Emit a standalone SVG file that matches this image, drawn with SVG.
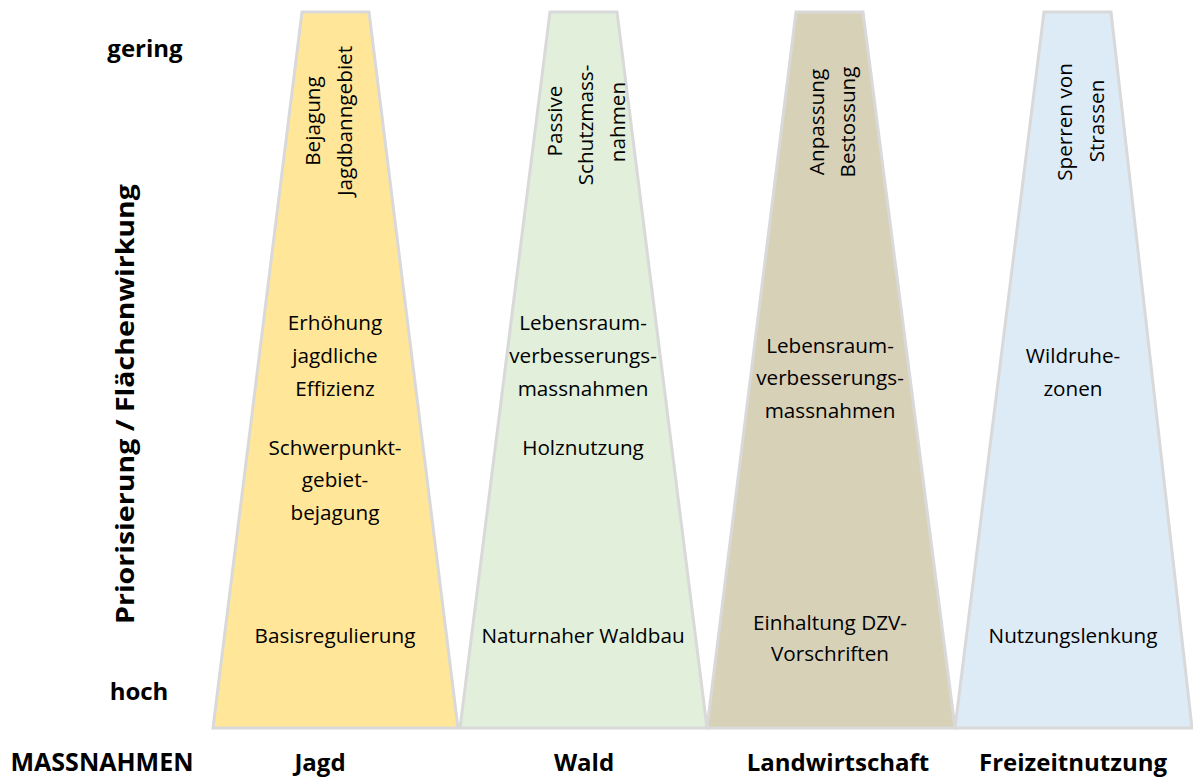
<svg xmlns="http://www.w3.org/2000/svg" width="1193" height="778" viewBox="0 0 1193 778">
<style>
.t{font-family:"Open Sans","Noto Sans",sans-serif;font-size:20.7px;fill:#000;text-anchor:middle}
.b{font-family:"Open Sans","Noto Sans",sans-serif;font-size:24px;font-weight:bold;fill:#000;text-anchor:middle}
.tr{stroke:#d9d9d9;stroke-width:3;stroke-linejoin:miter}
</style>
<rect width="1193" height="778" fill="#fff"/>
<g id="axis">
<text class="b" x="145" y="57">gering</text>
<text class="b" x="139" y="700">hoch</text>
<text class="b" transform="translate(134,404) rotate(-90)" x="0" y="0" style="font-size:25px" textLength="440" lengthAdjust="spacingAndGlyphs">Priorisierung / Flächenwirkung</text>
<text class="b" x="102" y="771" style="font-size:25px">MASSNAHMEN</text>
</g>
<g id="connectors"></g>
<g id="jagd">
<polygon class="tr" points="302,12 369,12 458,728 213,728" fill="#ffe699"/>
<text class="t" transform="translate(320,121) rotate(-90)">Bejagung</text>
<text class="t" transform="translate(352,121) rotate(-90)">Jagdbanngebiet</text>
<text class="t" x="335" y="330">Erhöhung</text>
<text class="t" x="335" y="363">jagdliche</text>
<text class="t" x="335" y="396">Effizienz</text>
<text class="t" x="335" y="455">Schwerpunkt-</text>
<text class="t" x="335" y="487">gebiet-</text>
<text class="t" x="335" y="520">bejagung</text>
<text class="t" x="335" y="643">Basisregulierung</text>
<text class="b" x="320" y="771">Jagd</text>
</g>
<g id="wald">
<polygon class="tr" points="550,12 617,12 707,728 460,728" fill="#e2efda"/>
<text class="t" transform="translate(562,121) rotate(-90)">Passive</text>
<text class="t" transform="translate(593,125) rotate(-90)">Schutzmass-</text>
<text class="t" transform="translate(625,122) rotate(-90)">nahmen</text>
<text class="t" x="583" y="330">Lebensraum-</text>
<text class="t" x="583" y="363">verbesserungs-</text>
<text class="t" x="583" y="396">massnahmen</text>
<text class="t" x="583" y="455">Holznutzung</text>
<text class="t" x="583" y="643">Naturnaher Waldbau</text>
<text class="b" x="584" y="771">Wald</text>
</g>
<g id="landwirtschaft">
<polygon class="tr" points="796,12 863,12 955,728 707,728" fill="#d7d1b8"/>
<text class="t" transform="translate(824,122) rotate(-90)">Anpassung</text>
<text class="t" transform="translate(855,122) rotate(-90)">Bestossung</text>
<text class="t" x="830" y="353">Lebensraum-</text>
<text class="t" x="830" y="385">verbesserungs-</text>
<text class="t" x="830" y="418">massnahmen</text>
<text class="t" x="830" y="630">Einhaltung DZV-</text>
<text class="t" x="830" y="661">Vorschriften</text>
<text class="b" x="838" y="771">Landwirtschaft</text>
</g>
<g id="freizeitnutzung">
<polygon class="tr" points="1044,12 1111,12 1192,728 955,728" fill="#ddebf7"/>
<text class="t" transform="translate(1072,122) rotate(-90)">Sperren von</text>
<text class="t" transform="translate(1104,121) rotate(-90)">Strassen</text>
<text class="t" x="1073" y="363">Wildruhe-</text>
<text class="t" x="1073" y="396">zonen</text>
<text class="t" x="1073" y="643">Nutzungslenkung</text>
<text class="b" x="1073" y="771">Freizeitnutzung</text>
</g>
</svg>
